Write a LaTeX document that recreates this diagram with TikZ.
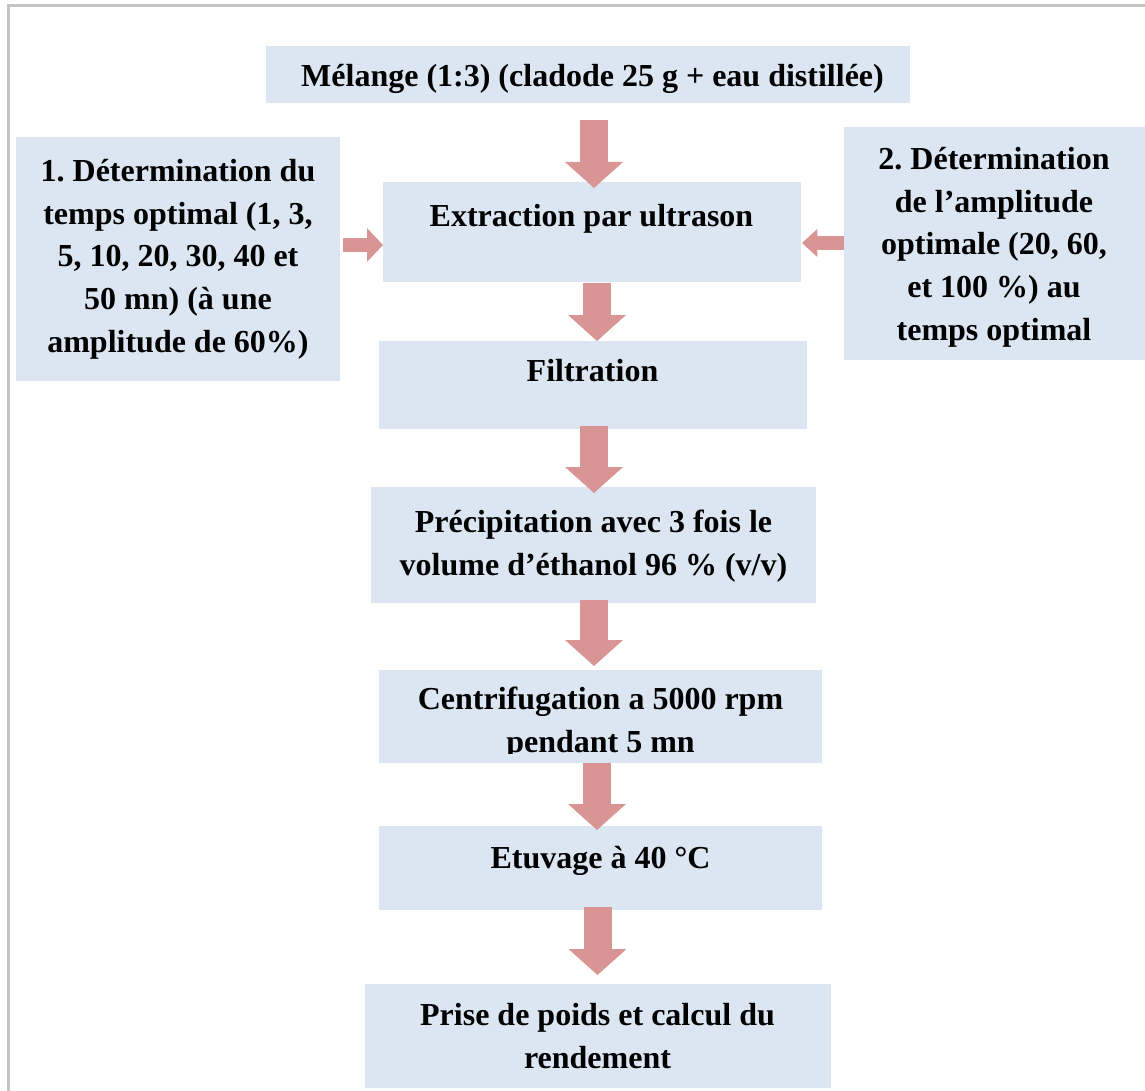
\documentclass[tikz,border=0pt]{standalone}
\usepackage{fontspec}
\setmainfont{Liberation Serif}
\usetikzlibrary{calc,fit,arrows.meta}
\definecolor{boxc}{HTML}{DCE6F2}
\definecolor{arrowc}{HTML}{D99594}
\definecolor{framec}{HTML}{C4C4C4}
\newcommand\ml[1]{\begin{tabular}[b]{@{}c@{}}#1\end{tabular}}
\frenchspacing
\tikzset{
  box/.style={fill=boxc, draw=none, inner sep=0pt, outer sep=0pt},
  txt/.style={anchor=base, inner sep=0pt, font=\fontsize{24}{31.9}\selectfont\bfseries\frenchspacing},
  fatv/.style={draw=arrowc, line width=21pt, -{Triangle[length=19.5pt,width=43.5pt,line width=0pt]}},
  fatl/.style={draw=arrowc, line width=10.8pt, -{Triangle[length=12pt,width=25.5pt,line width=0pt]}},
  fatr/.style={draw=arrowc, line width=10pt, -{Triangle[length=11.5pt,width=21pt,line width=0pt]}},
}
\begin{document}
\begin{tikzpicture}[x=0.75pt,y=-0.75pt]
\path[use as bounding box] (0,0) rectangle (1145,1091);
\draw[framec, line width=2.2pt] (8.8,1091) -- (8.8,5.4) -- (1145,5.4);
% boxes
\node[box, fit={(266,46) (910,103)}] (m) {};
\node[box, fit={(16,137) (340,381)}] (L) {};
\node[box, fit={(383,182) (801,282)}] (ext) {};
\node[box, fit={(844,127) (1145,360)}] (R) {};
\node[box, fit={(379,341) (807,429)}] (fil) {};
\node[box, fit={(371,487) (816,603)}] (pre) {};
\node[box, fit={(379,670) (822,763)}] (cen) {};
\node[box, fit={(379,826) (822,910)}] (etu) {};
\node[box, fit={(365,984) (831,1088)}] (pri) {};
% texts
\node[txt] (tm) at (592.5,87) {Mélange (1:3) (cladode 25 g + eau distillée)};
\node[txt] (tL) at (178,352) {\ml{1. Détermination du\\ temps optimal (1, 3,\\ 5, 10, 20, 30, 40 et\\ 50 mn) (à une\\ amplitude de 60\%)}};
\node[txt] (text) at (591.5,227) {Extraction par ultrason};
\node[txt] (tR) at (994,340) {\ml{2. Détermination\\ de l’amplitude\\ optimale (20, 60,\\ et 100 \%) au\\ temps optimal}};
\node[txt] (tfil) at (592.5,381) {Filtration};
\node[txt] (tpre) at (593.5,575) {\ml{Précipitation avec 3 fois le\\ volume d’éthanol 96 \% (v/v)}};
\begin{scope}
\clip (379,670) rectangle (822,753);
\node[txt] (tcen) at (600.5,752.5) {\ml{Centrifugation a 5000 rpm\\ pendant 5 mn}};
\end{scope}
\node[txt] (tetu) at (600.5,868) {Etuvage à 40 °C};
\node[txt] (tpri) at (597.5,1068) {\ml{Prise de poids et calcul du\\ rendement}};
% arrows
\draw[fatv] ($(m.south)+(6,17)$) -- ($(ext.north)+(2,6)$);
\draw[fatl] ($(L.east)+(3,-14)$) -- ($(ext.west)+(0,13)$);
\draw[fatr] ($(R.west)+(0,-0.5)$) -- ($(ext.east)+(1,11)$);
\draw[fatv] ($(ext.south)+(5,1)$) -- ($(fil.north)+(4,0)$);
\draw[fatv] ($(fil.south)+(1,-3)$) -- ($(pre.north)+(0.5,6)$);
\draw[fatv] ($(pre.south)+(0.5,-3)$) -- ($(cen.north)+(-6.5,-4)$);
\draw[fatv] ($(cen.south)+(-3.5,0)$) -- ($(etu.north)+(-3.5,4)$);
\draw[fatv] ($(etu.south)+(-3,-3)$) -- ($(pri.north)+(-0.5,-9)$);
\end{tikzpicture}
\end{document}
